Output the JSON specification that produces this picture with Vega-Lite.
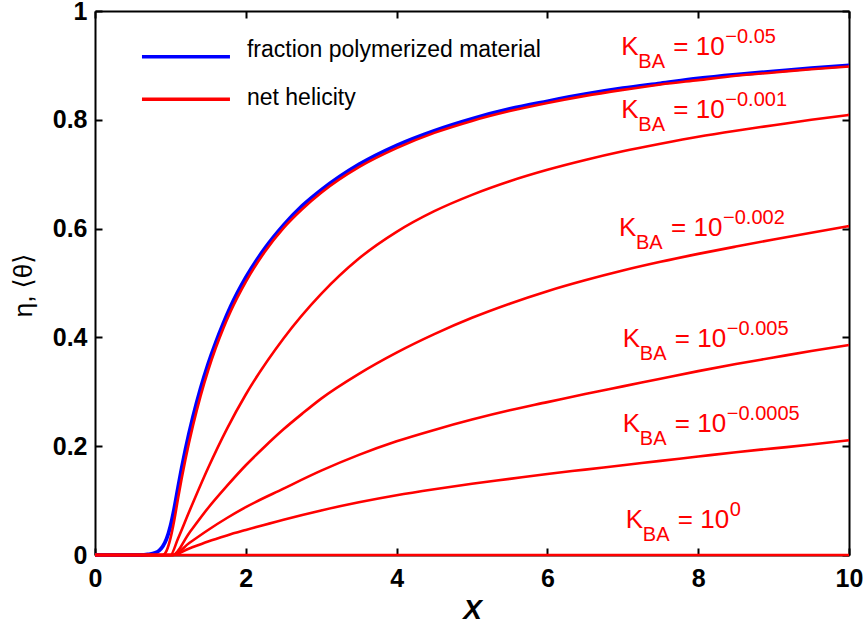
{
  "$schema": "https://vega.github.io/schema/vega-lite/v6.json",
  "width": 754,
  "height": 544,
  "autosize": {"type": "none"},
  "padding": {"left": 95, "top": 11, "right": 17, "bottom": 72},
  "background": "white",
  "config": {"view": {"stroke": null}, "font": "Liberation Sans"},
  "datasets": {
    "curves": [
      {"s":"eta","x":0,"y":0},{"s":"eta","x":0.6,"y":0},{"s":"eta","x":0.7,"y":0.001},{"s":"eta","x":0.8,"y":0.004},{"s":"eta","x":0.85,"y":0.008},{"s":"eta","x":0.9,"y":0.016},{"s":"eta","x":0.95,"y":0.03},{"s":"eta","x":1.0,"y":0.053},{"s":"eta","x":1.05,"y":0.085},{"s":"eta","x":1.1,"y":0.123},{"s":"eta","x":1.15,"y":0.16},{"s":"eta","x":1.2,"y":0.194},{"s":"eta","x":1.3,"y":0.254},{"s":"eta","x":1.4,"y":0.306},{"s":"eta","x":1.5,"y":0.351},{"s":"eta","x":1.6,"y":0.39},{"s":"eta","x":1.7,"y":0.425},{"s":"eta","x":1.8,"y":0.457},{"s":"eta","x":2.0,"y":0.51},{"s":"eta","x":2.25,"y":0.563},{"s":"eta","x":2.5,"y":0.606},{"s":"eta","x":2.75,"y":0.642},{"s":"eta","x":3.0,"y":0.671},{"s":"eta","x":3.5,"y":0.718},{"s":"eta","x":4.0,"y":0.753},{"s":"eta","x":4.5,"y":0.78},{"s":"eta","x":5.0,"y":0.802},{"s":"eta","x":5.5,"y":0.82},{"s":"eta","x":6.0,"y":0.834},{"s":"eta","x":6.5,"y":0.847},{"s":"eta","x":7.0,"y":0.858},{"s":"eta","x":7.5,"y":0.867},{"s":"eta","x":8.0,"y":0.876},{"s":"eta","x":8.5,"y":0.883},{"s":"eta","x":9.0,"y":0.889},{"s":"eta","x":9.5,"y":0.895},{"s":"eta","x":10,"y":0.9},
      {"s":"k1","x":0,"y":0},{"s":"k1","x":0.9,"y":0},{"s":"k1","x":0.95,"y":0.008},{"s":"k1","x":1.0,"y":0.03},{"s":"k1","x":1.05,"y":0.063},{"s":"k1","x":1.1,"y":0.103},{"s":"k1","x":1.15,"y":0.141},{"s":"k1","x":1.2,"y":0.176},{"s":"k1","x":1.3,"y":0.238},{"s":"k1","x":1.4,"y":0.292},{"s":"k1","x":1.5,"y":0.339},{"s":"k1","x":1.6,"y":0.38},{"s":"k1","x":1.7,"y":0.416},{"s":"k1","x":1.8,"y":0.448},{"s":"k1","x":2.0,"y":0.502},{"s":"k1","x":2.25,"y":0.557},{"s":"k1","x":2.5,"y":0.601},{"s":"k1","x":2.75,"y":0.636},{"s":"k1","x":3.0,"y":0.666},{"s":"k1","x":3.5,"y":0.713},{"s":"k1","x":4.0,"y":0.748},{"s":"k1","x":4.5,"y":0.776},{"s":"k1","x":5.0,"y":0.798},{"s":"k1","x":5.5,"y":0.816},{"s":"k1","x":6.0,"y":0.831},{"s":"k1","x":6.5,"y":0.844},{"s":"k1","x":7.0,"y":0.855},{"s":"k1","x":7.5,"y":0.865},{"s":"k1","x":8.0,"y":0.873},{"s":"k1","x":8.5,"y":0.881},{"s":"k1","x":9.0,"y":0.887},{"s":"k1","x":9.5,"y":0.893},{"s":"k1","x":10,"y":0.898},
      {"s":"k2","x":0,"y":0},{"s":"k2","x":1.0,"y":0},{"s":"k2","x":1.1,"y":0.03},{"s":"k2","x":1.25,"y":0.08},{"s":"k2","x":1.5,"y":0.16},{"s":"k2","x":1.75,"y":0.232},{"s":"k2","x":2.0,"y":0.295},{"s":"k2","x":2.5,"y":0.398},{"s":"k2","x":3.0,"y":0.48},{"s":"k2","x":3.5,"y":0.545},{"s":"k2","x":4.0,"y":0.594},{"s":"k2","x":4.5,"y":0.632},{"s":"k2","x":5.0,"y":0.662},{"s":"k2","x":5.5,"y":0.687},{"s":"k2","x":6.0,"y":0.708},{"s":"k2","x":6.5,"y":0.726},{"s":"k2","x":7.0,"y":0.742},{"s":"k2","x":7.5,"y":0.756},{"s":"k2","x":8.0,"y":0.769},{"s":"k2","x":8.5,"y":0.78},{"s":"k2","x":9.0,"y":0.79},{"s":"k2","x":9.5,"y":0.8},{"s":"k2","x":10,"y":0.809},
      {"s":"k3","x":0,"y":0},{"s":"k3","x":1.03,"y":0},{"s":"k3","x":1.25,"y":0.0405},{"s":"k3","x":1.5,"y":0.0865},{"s":"k3","x":1.75,"y":0.127},{"s":"k3","x":2.0,"y":0.165},{"s":"k3","x":2.25,"y":0.199},{"s":"k3","x":2.5,"y":0.231},{"s":"k3","x":2.75,"y":0.26},{"s":"k3","x":3.0,"y":0.2875},{"s":"k3","x":3.5,"y":0.333},{"s":"k3","x":4.0,"y":0.372},{"s":"k3","x":4.5,"y":0.406},{"s":"k3","x":5.0,"y":0.436},{"s":"k3","x":5.5,"y":0.462},{"s":"k3","x":6.0,"y":0.485},{"s":"k3","x":6.5,"y":0.505},{"s":"k3","x":7.0,"y":0.523},{"s":"k3","x":7.5,"y":0.539},{"s":"k3","x":8.0,"y":0.5535},{"s":"k3","x":8.5,"y":0.567},{"s":"k3","x":9.0,"y":0.58},{"s":"k3","x":9.5,"y":0.5925},{"s":"k3","x":10,"y":0.6045},
      {"s":"k4","x":0,"y":0},{"s":"k4","x":1.03,"y":0},{"s":"k4","x":1.25,"y":0.022},{"s":"k4","x":1.5,"y":0.046},{"s":"k4","x":1.75,"y":0.068},{"s":"k4","x":2.0,"y":0.088},{"s":"k4","x":2.5,"y":0.122},{"s":"k4","x":3.0,"y":0.155},{"s":"k4","x":3.5,"y":0.184},{"s":"k4","x":4.0,"y":0.209},{"s":"k4","x":4.5,"y":0.23},{"s":"k4","x":5.0,"y":0.249},{"s":"k4","x":5.5,"y":0.266},{"s":"k4","x":6.0,"y":0.281},{"s":"k4","x":6.5,"y":0.296},{"s":"k4","x":7.0,"y":0.31},{"s":"k4","x":7.5,"y":0.324},{"s":"k4","x":8.0,"y":0.338},{"s":"k4","x":8.5,"y":0.351},{"s":"k4","x":9.0,"y":0.363},{"s":"k4","x":9.5,"y":0.375},{"s":"k4","x":10,"y":0.386},
      {"s":"k5","x":0,"y":0},{"s":"k5","x":1.03,"y":0},{"s":"k5","x":1.25,"y":0.012},{"s":"k5","x":1.5,"y":0.025},{"s":"k5","x":1.75,"y":0.036},{"s":"k5","x":2.0,"y":0.046},{"s":"k5","x":2.5,"y":0.065},{"s":"k5","x":3.0,"y":0.082},{"s":"k5","x":3.5,"y":0.097},{"s":"k5","x":4.0,"y":0.11},{"s":"k5","x":4.5,"y":0.121},{"s":"k5","x":5.0,"y":0.131},{"s":"k5","x":5.5,"y":0.14},{"s":"k5","x":6.0,"y":0.149},{"s":"k5","x":6.5,"y":0.157},{"s":"k5","x":7.0,"y":0.165},{"s":"k5","x":7.5,"y":0.173},{"s":"k5","x":8.0,"y":0.181},{"s":"k5","x":8.5,"y":0.189},{"s":"k5","x":9.0,"y":0.196},{"s":"k5","x":9.5,"y":0.203},{"s":"k5","x":10,"y":0.211},
      {"s":"k6","x":0,"y":0},{"s":"k6","x":10,"y":0}
    ],
    "labels": [
      {"exp":"−0.05","x":6.98,"y":0.919},
      {"exp":"−0.001","x":6.98,"y":0.803},
      {"exp":"−0.002","x":6.95,"y":0.586},
      {"exp":"−0.005","x":7.0,"y":0.382},
      {"exp":"−0.0005","x":7.0,"y":0.227},
      {"exp":"0","x":7.04,"y":0.049}
    ],
    "legend": [
      {"label":"fraction polymerized material","x":0.623,"x2":1.79,"y":0.916,"ty":0.9149},
      {"label":"net helicity","x":0.623,"x2":1.79,"y":0.8377,"ty":0.8272}
    ]
  },
  "layer": [
    {
      "data": {"name": "curves"},
      "transform": [{"filter": "datum.s === 'eta'"}],
      "mark": {"type": "line", "color": "#0000ff", "strokeWidth": 3.8, "interpolate": "monotone"},
      "encoding": {
        "x": {"field": "x", "type": "quantitative", "scale": {"domain": [0, 10], "nice": false},
          "axis": {"orient": "bottom", "values": [0,2,4,6,8,10], "format": "d", "grid": false,
            "tickSize": -7, "tickWidth": 2, "tickColor": "black", "domainColor": "black", "domainWidth": 2,
            "labelFont": "Liberation Sans", "labelFontWeight": "bold", "labelFontSize": 25, "labelColor": "black",
            "labelPadding": 18, "labelFlush": false, "labelOverlap": false,
            "title": "X", "titleFont": "Liberation Sans", "titleFontSize": 28, "titleFontStyle": "italic", "titleFontWeight": "bold",
            "titleColor": "black", "titleY": 63, "titleBaseline": "alphabetic"}},
        "y": {"field": "y", "type": "quantitative", "scale": {"domain": [0, 1], "nice": false},
          "axis": {"orient": "left", "values": [0,0.2,0.4,0.6,0.8,1], "format": "~g", "grid": false,
            "tickSize": -7, "tickWidth": 2, "tickColor": "black", "domainColor": "black", "domainWidth": 2,
            "labelFont": "Liberation Sans", "labelFontWeight": "bold", "labelFontSize": 25, "labelColor": "black",
            "labelPadding": 15, "labelFlush": false, "labelOverlap": false,
            "title": "η, ⟨θ⟩", "titleFont": "Liberation Sans, DejaVu Sans", "titleFontSize": 26, "titleFontWeight": "normal",
            "titleColor": "black", "titleX": -72, "titleY": 274, "titleAlign": "center", "titleBaseline": "middle", "titleAngle": -90}}
      }
    },
    {
      "data": {"name": "curves"},
      "transform": [{"filter": "datum.s !== 'eta'"}],
      "mark": {"type": "line", "color": "#ff0000", "strokeWidth": 2.6, "interpolate": "monotone"},
      "encoding": {
        "detail": {"field": "s"},
        "x": {"field": "x", "type": "quantitative",
          "axis": {"orient": "top", "values": [0,2,4,6,8,10], "labels": false, "grid": false, "title": null,
            "tickSize": -7, "tickWidth": 2, "tickColor": "black", "domainColor": "black", "domainWidth": 2}},
        "y": {"field": "y", "type": "quantitative",
          "axis": {"orient": "right", "values": [0,0.2,0.4,0.6,0.8,1], "labels": false, "grid": false, "title": null,
            "tickSize": -7, "tickWidth": 2, "tickColor": "black", "domainColor": "black", "domainWidth": 2}}
      }
    },
    {
      "data": {"name": "legend"},
      "mark": {"type": "rule", "strokeWidth": 3.5},
      "encoding": {
        "x": {"field": "x", "type": "quantitative", "axis": null},
        "x2": {"field": "x2"},
        "y": {"field": "y", "type": "quantitative", "axis": null},
        "color": {"field": "label", "type": "nominal", "legend": null,
          "scale": {"domain": ["fraction polymerized material", "net helicity"], "range": ["#0000ff", "#ff0000"]}}
      }
    },
    {
      "data": {"name": "legend"},
      "mark": {"type": "text", "align": "left", "baseline": "alphabetic", "dx": 17, "font": "Liberation Sans", "fontSize": 23, "color": "black"},
      "encoding": {
        "x": {"field": "x2", "type": "quantitative", "axis": null},
        "y": {"field": "ty", "type": "quantitative", "axis": null},
        "text": {"field": "label"}
      }
    },
    {
      "data": {"name": "labels"},
      "mark": {"type": "text", "align": "left", "baseline": "alphabetic", "font": "Liberation Sans", "fontSize": 26, "color": "#ff0000"},
      "encoding": {
        "x": {"field": "x", "type": "quantitative", "axis": null},
        "y": {"field": "y", "type": "quantitative", "axis": null},
        "text": {"value": "K"}
      }
    },
    {
      "data": {"name": "labels"},
      "mark": {"type": "text", "align": "left", "baseline": "alphabetic", "dx": 17, "dy": 13, "font": "Liberation Sans", "fontSize": 20, "color": "#ff0000"},
      "encoding": {
        "x": {"field": "x", "type": "quantitative", "axis": null},
        "y": {"field": "y", "type": "quantitative", "axis": null},
        "text": {"value": "BA"}
      }
    },
    {
      "data": {"name": "labels"},
      "mark": {"type": "text", "align": "left", "baseline": "alphabetic", "dx": 52, "font": "Liberation Sans", "fontSize": 26, "color": "#ff0000"},
      "encoding": {
        "x": {"field": "x", "type": "quantitative", "axis": null},
        "y": {"field": "y", "type": "quantitative", "axis": null},
        "text": {"value": "= 10"}
      }
    },
    {
      "data": {"name": "labels"},
      "mark": {"type": "text", "align": "left", "baseline": "alphabetic", "dx": 104, "dy": -12, "font": "Liberation Sans", "fontSize": 20, "color": "#ff0000"},
      "encoding": {
        "x": {"field": "x", "type": "quantitative", "axis": null},
        "y": {"field": "y", "type": "quantitative", "axis": null},
        "text": {"field": "exp"}
      }
    }
  ]
}
